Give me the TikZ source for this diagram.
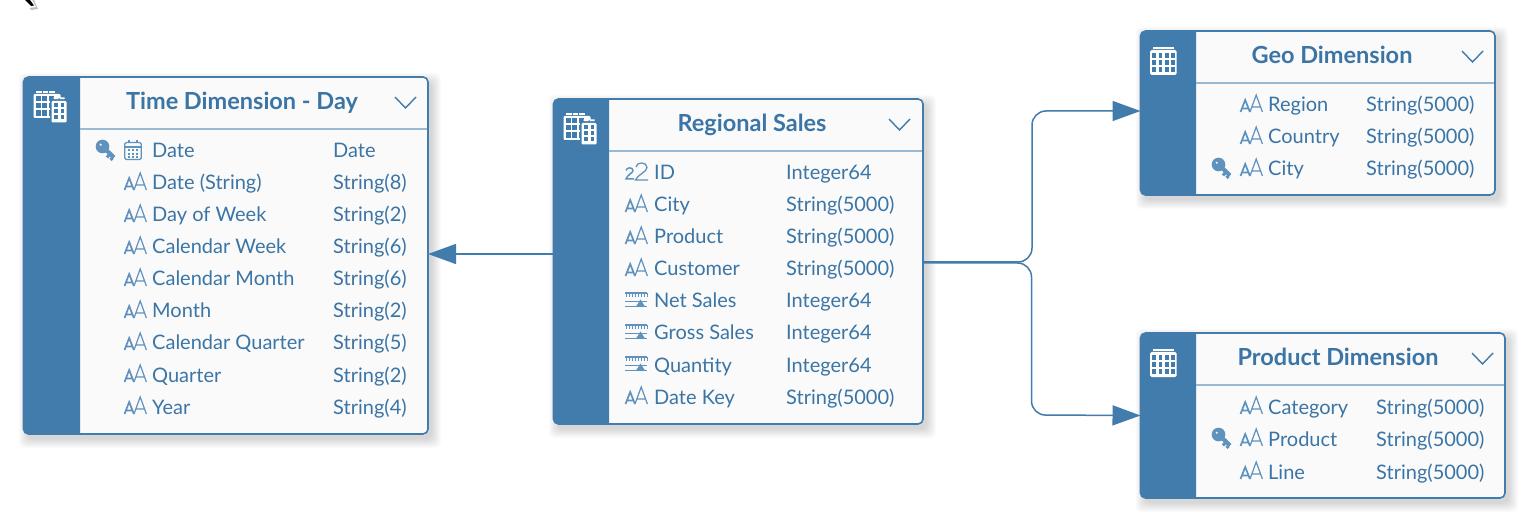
\documentclass[tikz,border=0pt]{standalone}
\usepackage{fontspec}
\setmainfont{Lato}
\usetikzlibrary{arrows.meta}
\definecolor{sapblue}{HTML}{427CAC}
\definecolor{saptext}{HTML}{3A75A6}
\definecolor{sapicon}{HTML}{5F92BC}
\definecolor{saprule}{HTML}{9ABAD4}
\definecolor{sappanel}{HTML}{FAFAFA}
\tikzset{
  x=1pt,y=-1pt,
  tablebox/.style={draw=sapblue,fill=sappanel,line width=1.6pt,rounded corners=5pt,inner sep=0pt,outer sep=0pt},
  fieldtext/.style={text=saptext,anchor=base west,inner sep=0pt,font=\fontsize{20}{24}\selectfont},
  titletext/.style={text=saptext,anchor=base,inner sep=0pt,font=\fontsize{23.5}{27}\selectfont\bfseries},
  link/.style={draw=sapblue,line width=1.5pt,rounded corners=14pt,-{Triangle[length=28pt,width=20pt]}},
  pics/aaicon/.style={code={
    \draw[sapicon,line width=1.7pt,line join=miter] (0.5,8) -- (5.2,-4) -- (9.9,8) (2.4,4.5) -- (8,4.5);
    \draw[sapicon,line width=1.2pt,line join=miter] (10,8) -- (16.2,-9) -- (22.4,8) (12,3) -- (20.4,3);
  }},
  pics/numicon/.style={code={
    \draw[sapicon,line width=1.5pt,line cap=butt] (1,-1.5) .. controls (1.5,-5) and (8,-5) .. (8,-1.5) .. controls (8,1) and (2,3) .. (1,7) -- (9,7);
    \draw[sapicon,line width=1.3pt] (11,-5) .. controls (11.5,-10.5) and (22,-10.5) .. (22,-4.5) .. controls (22,0) and (12,3) .. (10.5,8) -- (23,8);
  }},
  pics/measureicon/.style={code={
    \draw[sapicon,line width=1.2pt] (0,-7) -- (22,-7);
    \foreach \tx in {1,4,...,22} \draw[sapicon,line width=1pt] (\tx,-7) -- (\tx,-3);
    \draw[sapicon,line width=1.1pt] (0,1.5) -- (22,1.5) (0,6.5) -- (22,6.5);
    \fill[sapicon] (11,6.5) -- (15.5,-0.5) -- (20,6.5) -- cycle;
  }},
  pics/calicon/.style={code={
    \draw[sapicon,line width=1.2pt,rounded corners=1.5pt] (0.7,-7.5) rectangle (17.3,9.5);
    \draw[sapicon,line width=1.2pt] (0.7,-3) -- (17.3,-3) (5,-10) -- (5,-6.5) (13,-10) -- (13,-6.5);
    \foreach \cx in {5,9,13} \foreach \cy in {0.5,3.8,7}
      \fill[sapicon] (\cx-1,\cy-1) rectangle (\cx+1,\cy+1);
  }},
  pics/keyicon/.style={code={
    \draw[sapicon,line width=4.2pt] (6.5,-3.5) -- (18,7.5);
    \draw[sapicon,line width=3pt] (13,5) -- (11,7.5) (16.5,8) -- (14.5,10);
    \fill[sapicon,even odd rule] (6.5,-3.5) circle (6.8) (4.7,-5.3) circle (1.4);
  }},
  pics/gridicon/.style={code={
    \fill[white,rounded corners=1.5pt] (0,0) rectangle (26.5,25);
    \foreach \dx in {3,10,17} \fill[white] (\dx,-3.2) rectangle (\dx+6.5,-1.3);
    \foreach \gx in {2.3,8.6,14.9,21.2} \foreach \gy in {3.2,10,16.8}
      \fill[sapblue] (\gx,\gy) rectangle (\gx+3.8,\gy+4.8);
  }},
  pics/twingridicon/.style={code={
    \fill[white,rounded corners=1.2pt] (0,0) rectangle (27,24);
    \foreach \dx in {2.5,9,15.5} \fill[white] (\dx,-3) rectangle (\dx+5.5,-1.2);
    \foreach \gx in {2,8.8,15.4} \foreach \gy in {1.8,9,16.4}
      \fill[sapblue] (\gx,\gy) rectangle (\gx+5,\gy+5.2);
    \fill[sapblue] (16,4) rectangle (34.5,30);
    \fill[white,rounded corners=1.2pt] (18,7) rectangle (33,28.5);
    \fill[white] (20,3.4) rectangle (25,5.2) (26,3.4) rectangle (31,5.2);
    \foreach \gx in {20.5,27} \foreach \gy in {9,15,21.5}
      \fill[sapblue] (\gx,\gy) rectangle (\gx+3.6,\gy+3.8);
  }},
}
% name, x1, y1, x2, y2, sidebar right, rule y
\newcommand{\tablecard}[7]{%
  \foreach \sh in {1,...,10}
    \fill[black,opacity=0.016,rounded corners=6pt]
      (#2+5-\sh,#3+6-\sh) rectangle (#4+3+\sh,#5+4+\sh);
  \node[tablebox,minimum width=#4pt-#2pt,minimum height=#5pt-#3pt] (#1) at ({(#2+#4)/2},{(#3+#5)/2}) {};
  \fill[sapblue] (#6,#3) [rounded corners=5pt]-- (#2-0.3,#3) -- (#2-0.3,#5) [sharp corners]-- (#6,#5) -- cycle;
  \draw[saprule,line width=1.6pt] (#6,#7) -- (#4-0.8,#7);
}
% chevron left x, top y
\newcommand{\chevronmark}[2]{%
  \draw[sapblue,line width=1.4pt,line join=miter] (#1,#2) -- (#1+10.5,#2+11) -- (#1+21,#2);
}
\newcount\fieldno
% icon, icon x, row y, text x, type x, text, type
\newcommand{\fieldrow}[7]{%
  \global\advance\fieldno by 1
  \pic at (#2,#3) {#1};
  \node[fieldtext] (fname\the\fieldno) at (#4,#3+8) {#6};
  \node[fieldtext] (ftype\the\fieldno) at (#5,#3+8) {#7};
}
\begin{document}
\begin{tikzpicture}
\useasboundingbox (0,0) rectangle (1528,526);
\fill[white] (0,0) rectangle (1528,526);
% pointer remnant at the top edge
\fill[black!25] (23,0) -- (31,10) -- (38,9) -- (34,0) -- cycle;
\fill[white] (20,0) -- (29,8) -- (36,7) -- (32,0) -- cycle;
\fill[black] (25,0) -- (31,6) -- (34,5.5) -- (30,0) -- cycle;

\tablecard{timedim}{23.5}{77}{428}{434}{80}{129}
\tablecard{regional}{553.5}{99}{923}{424}{609}{151}
\tablecard{geodim}{1140.5}{31}{1495}{195}{1196}{83}
\tablecard{proddim}{1140.5}{333}{1505}{498}{1196}{385}

% connectors
\draw[link] ([yshift=7.5pt]regional.west) -- ([yshift=1.5pt]timedim.east);
\draw[link] ([yshift=-0.5pt]regional.east) -- (1032,262) -- (1032,111) -- ([yshift=2pt]geodim.west);
\draw[link] ([yshift=-1.5pt]regional.east) -- (1031.5,263) -- (1031.5,415) -- (proddim.west);

% card headers
\pic at (33.5,94) {twingridicon};
\pic at (563.5,116) {twingridicon};
\pic at (1150,50) {gridicon};
\pic at (1150,352) {gridicon};
\node[titletext] (ttime) at (242,110) {Time Dimension - Day};
\node[titletext] (treg) at (752,132) {Regional Sales};
\node[titletext] (tgeo) at (1332,64) {Geo Dimension};
\node[titletext] (tprod) at (1338,366) {Product Dimension};
\chevronmark{395}{97}
\chevronmark{889}{119}
\chevronmark{1462}{51}
\chevronmark{1472}{353}

% Time Dimension - Day
\pic at (96,150) {keyicon};
\fieldrow{calicon}{124}{150}{152}{333}{Date}{Date}
\fieldrow{aaicon}{124}{182}{152}{333}{Date (String)}{String(8)}
\fieldrow{aaicon}{124}{214}{152}{333}{Day of Week}{String(2)}
\fieldrow{aaicon}{124}{246}{152}{333}{Calendar Week}{String(6)}
\fieldrow{aaicon}{124}{278}{152}{333}{Calendar Month}{String(6)}
\fieldrow{aaicon}{124}{310}{152}{333}{Month}{String(2)}
\fieldrow{aaicon}{124}{342}{152}{333}{Calendar Quarter}{String(5)}
\fieldrow{aaicon}{124}{374}{152}{333}{Quarter}{String(2)}
\fieldrow{aaicon}{124}{406}{152}{333}{Year}{String(4)}

% Regional Sales
\fieldrow{numicon}{625}{172}{654}{786}{ID}{Integer64}
\fieldrow{aaicon}{625}{204}{654}{786}{City}{String(5000)}
\fieldrow{aaicon}{625}{236}{654}{786}{Product}{String(5000)}
\fieldrow{aaicon}{625}{268}{654}{786}{Customer}{String(5000)}
\fieldrow{measureicon}{625}{300}{654}{786}{Net Sales}{Integer64}
\fieldrow{measureicon}{625}{332}{654}{786}{Gross Sales}{Integer64}
\fieldrow{measureicon}{625}{364}{654}{786}{Quantity}{Integer64}
\fieldrow{aaicon}{625}{396}{654}{786}{Date Key}{String(5000)}

% Geo Dimension
\fieldrow{aaicon}{1240}{104}{1268}{1366}{Region}{String(5000)}
\fieldrow{aaicon}{1240}{136}{1268}{1366}{Country}{String(5000)}
\pic at (1212,168) {keyicon};
\fieldrow{aaicon}{1240}{168}{1268}{1366}{City}{String(5000)}

% Product Dimension
\fieldrow{aaicon}{1240}{406}{1268}{1376}{Category}{String(5000)}
\pic at (1212,438) {keyicon};
\fieldrow{aaicon}{1240}{438}{1268}{1376}{Product}{String(5000)}
\fieldrow{aaicon}{1240}{471}{1268}{1376}{Line}{String(5000)}
\end{tikzpicture}
\end{document}
